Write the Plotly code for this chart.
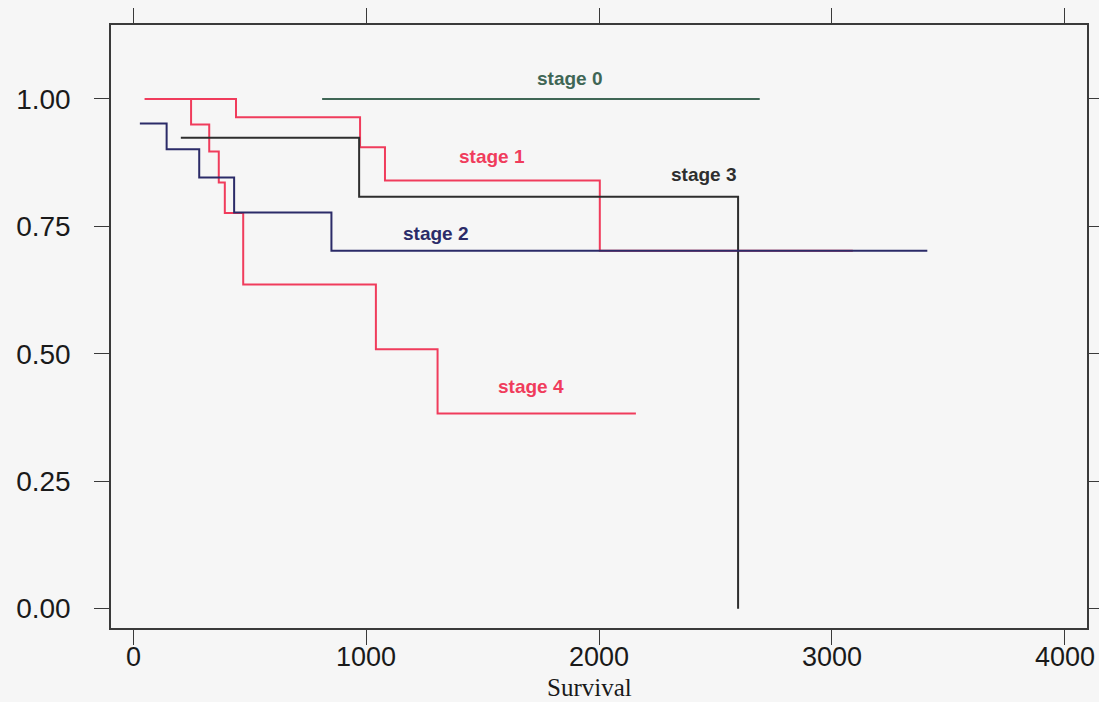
import plotly.graph_objects as go

# Kaplan-Meier style step data
stage0_x = [810, 2690]
stage0_y = [1.0, 1.0]

stage1_x = [48, 440, 973, 1080, 2003, 3090]
stage1_y = [1.0, 0.964, 0.905, 0.840, 0.702, 0.702]

stage2_x = [27, 142, 282, 432, 850, 3410]
stage2_y = [0.952, 0.901, 0.846, 0.777, 0.702, 0.702]

stage3_x = [203, 969, 2597]
stage3_y = [0.924, 0.808, 0.0]

stage4_x = [48, 247, 325, 366, 392, 471, 1041, 1306, 2158]
stage4_y = [1.0, 0.950, 0.897, 0.836, 0.776, 0.636, 0.509, 0.383, 0.383]

label_text = ["stage 0", "stage 1", "stage 2", "stage 3", "stage 4"]
label_x = [1874, 1539, 1299, 2450, 1707]
label_y = [1.041, 0.887, 0.736, 0.851, 0.435]

x_ticks = [0, 1000, 2000, 3000, 4000]
x_ticklabels = ["0", "1000", "2000", "3000", "4000"]
y_ticks = [0.0, 0.25, 0.5, 0.75, 1.0]
y_ticklabels = ["0.00", "0.25", "0.50", "0.75", "1.00"]
x_title = "Survival"

RED = "#f03c5c"
NAVY = "#2b2b68"
BLACK = "#2e2e2e"
GREEN = "#3f6655"
TXT = "#1a1a1a"

series = [
    (stage4_x, stage4_y, RED),
    (stage1_x, stage1_y, RED),
    (stage3_x, stage3_y, BLACK),
    (stage2_x, stage2_y, NAVY),
    (stage0_x, stage0_y, GREEN),
]
label_colors = [GREEN, RED, NAVY, BLACK, RED]

fig = go.Figure()
for xs, ys, col in series:
    fig.add_trace(go.Scatter(x=xs, y=ys, mode="lines", line_shape="hv",
                             line=dict(color=col, width=2), showlegend=False,
                             hoverinfo="skip"))

for t, x, y, c in zip(label_text, label_x, label_y, label_colors):
    fig.add_annotation(x=x, y=y, text="<b>" + t + "</b>", showarrow=False, xref="x", yref="y",
                       font=dict(family="Liberation Sans, Arial", size=19, color=c))

# x tick labels placed just under the ticks
for v, t in zip(x_ticks, x_ticklabels):
    fig.add_annotation(x=v, y=0, xref="x", yref="paper", text=t, showarrow=False,
                       yanchor="middle", yshift=-29,
                       font=dict(family="Liberation Sans, Arial", size=27, color=TXT))

fig.add_annotation(x=1960, y=0, xref="x", yref="paper", text=x_title, showarrow=False,
                   yanchor="middle", yshift=-59,
                   font=dict(family="Liberation Serif, Times New Roman", size=25, color=TXT))

axis_common = dict(showline=True, linecolor="#3a3a3a", linewidth=1.5, mirror="ticks",
                   ticks="outside", ticklen=15, tickwidth=1.3, tickcolor="#3a3a3a",
                   showgrid=False, zeroline=False, automargin=False,
                   tickfont=dict(family="Liberation Sans, Arial", size=28, color=TXT))

fig.update_xaxes(range=[-97, 4096], tickvals=x_ticks, showticklabels=False, **axis_common)
fig.update_yaxes(range=[-0.038, 1.145], tickvals=y_ticks, ticktext=y_ticklabels,
                 ticklabelstandoff=18, **axis_common)

fig.update_layout(width=1099, height=702, margin=dict(l=111, r=12, t=25, b=74),
                  paper_bgcolor="#f6f6f6", plot_bgcolor="#f6f6f6")

fig.write_html("out.html")
